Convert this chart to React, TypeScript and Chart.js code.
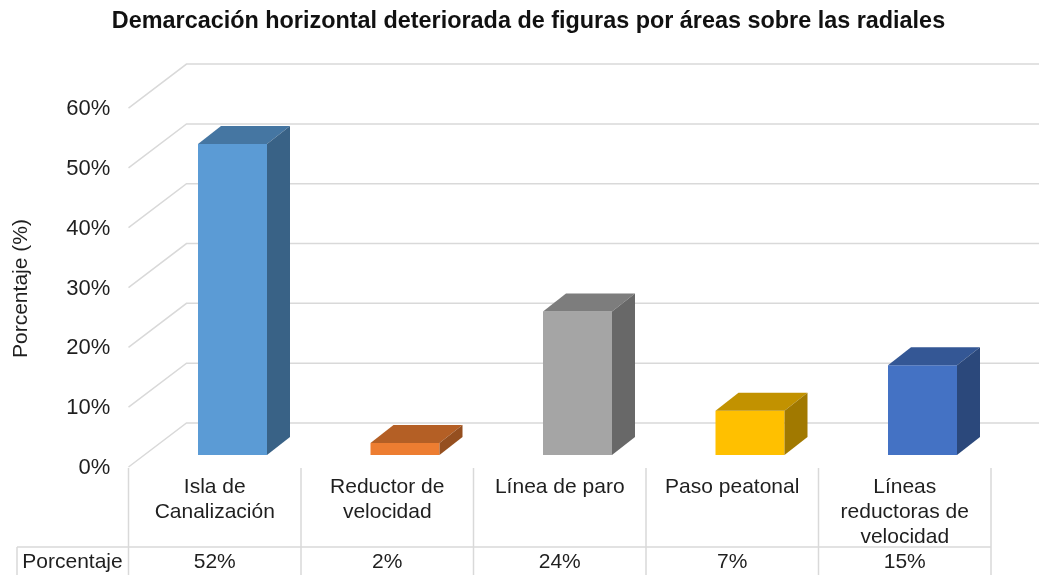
import React, { useEffect, useRef } from "react";
import { Chart, registerables } from "chart.js";

Chart.register(...registerables);

const categories: (string | string[])[] = [
  ["Isla de", "Canalización"],
  ["Reductor de", "velocidad"],
  "Línea de paro",
  "Paso peatonal",
  ["Líneas", "reductoras de", "velocidad"],
];
const seriesName = "Porcentaje";
const values = [52, 2, 24, 7.4, 15];
const tableLabels = ["52%", "2%", "24%", "7%", "15%"];
const barColors = ["#5B9BD5", "#ED7D31", "#A5A5A5", "#FFC000", "#4472C4"];

const FONT = '"Liberation Sans", Arial, sans-serif';
const TEXT = "#1f1f1f";
const GRID = "#D9D9D9";
const FLOOR_DX = 17.75;
const FLOOR_DY = 12;
const WALL_DX = 58;
const WALL_DY = 44;
const BAR_DX = 23;
const BAR_DY = 18;
const AXIS_TITLE_SHIFT = 13;

function shade(hex: string, f: number) {
  const n = parseInt(hex.slice(1), 16);
  const c = [(n >> 16) & 255, (n >> 8) & 255, n & 255].map((v) => Math.round(v * f));
  return `rgb(${c[0]},${c[1]},${c[2]})`;
}

const wallPlugin = {
  id: "wall3d",
  afterLayout(chart: any) {
    chart.titleBlock.left = 18;
    chart.titleBlock.right = 1039;
    const s = chart.scales.y;
    if (!s.__shifted) {
      s.__shifted = true;
      const orig = s.drawTitle;
      s.drawTitle = function () {
        chart.ctx.save();
        chart.ctx.translate(0, AXIS_TITLE_SHIFT);
        orig.call(s);
        chart.ctx.restore();
      };
    }
  },
  beforeDatasetsDraw(chart: any) {
    const { ctx } = chart;
    const y = chart.scales.y;
    const x = chart.scales.x;
    const front = x.left - FLOOR_DX;
    ctx.save();
    ctx.strokeStyle = GRID;
    ctx.lineWidth = 1.5;
    y.ticks.forEach((t: any) => {
      const py = y.getPixelForValue(t.value) + FLOOR_DY;
      ctx.beginPath();
      ctx.moveTo(front, py);
      ctx.lineTo(front + WALL_DX, py - WALL_DY);
      ctx.lineTo(chart.width, py - WALL_DY);
      ctx.stroke();
    });
    ctx.restore();
  },
  afterDatasetsDraw(chart: any) {
    const { ctx } = chart;
    const bars = chart.getDatasetMeta(0).data;
    ctx.save();
    bars.forEach((b: any, i: number) => {
      const { x, y, base, width } = b.getProps(["x", "y", "base", "width"], true);
      const l = x - width / 2;
      const r = x + width / 2;
      ctx.fillStyle = shade(barColors[i], 0.76);
      ctx.beginPath();
      ctx.moveTo(l, y);
      ctx.lineTo(l + BAR_DX, y - BAR_DY);
      ctx.lineTo(r + BAR_DX, y - BAR_DY);
      ctx.lineTo(r, y);
      ctx.closePath();
      ctx.fill();
      ctx.fillStyle = shade(barColors[i], 0.63);
      ctx.beginPath();
      ctx.moveTo(r, y);
      ctx.lineTo(r + BAR_DX, y - BAR_DY);
      ctx.lineTo(r + BAR_DX, base - BAR_DY);
      ctx.lineTo(r, base);
      ctx.closePath();
      ctx.fill();
    });
    ctx.restore();
  },
  afterDraw(chart: any) {
    const { ctx } = chart;
    const x = chart.scales.x;
    const y0 = chart.scales.y.getPixelForValue(0) + FLOOR_DY;
    const step = x.getPixelForValue(1) - x.getPixelForValue(0);
    const left = x.left - FLOOR_DX;
    const rowY = 547;
    ctx.save();
    ctx.strokeStyle = GRID;
    ctx.lineWidth = 1.5;
    for (let i = 0; i <= categories.length; i++) {
      const px = left + i * step;
      ctx.beginPath();
      ctx.moveTo(px, y0 + 1);
      ctx.lineTo(px, chart.height);
      ctx.stroke();
    }
    ctx.beginPath();
    ctx.moveTo(17, rowY);
    ctx.lineTo(left + categories.length * step, rowY);
    ctx.moveTo(17, rowY);
    ctx.lineTo(17, chart.height);
    ctx.stroke();
    ctx.fillStyle = TEXT;
    ctx.font = `21px ${FONT}`;
    ctx.textAlign = "center";
    ctx.textBaseline = "middle";
    ctx.fillText(seriesName, 72.5, 562);
    tableLabels.forEach((t, i) => {
      ctx.fillText(t, x.getPixelForValue(i) - FLOOR_DX, 562);
    });
    ctx.restore();
  },
};

export default function App() {
  const ref = useRef<HTMLCanvasElement>(null);
  useEffect(() => {
    document.body.style.margin = "0";
    document.body.style.background = "#fff";
    const chart = new Chart(ref.current!, {
      type: "bar",
      data: {
        labels: categories as any,
        datasets: [
          {
            label: seriesName,
            data: values,
            backgroundColor: barColors,
            borderWidth: 0,
            barPercentage: 0.4,
            categoryPercentage: 1,
          },
        ],
      },
      options: {
        responsive: false,
        animation: false,
        layout: { padding: { left: 0, right: 30.25, top: 0, bottom: 0 } },
        plugins: {
          legend: { display: false },
          tooltip: { enabled: false },
          title: {
            display: true,
            text: "Demarcación horizontal deteriorada de figuras por áreas sobre las radiales",
            color: "#111111",
            font: { family: FONT, size: 23.4, weight: "bold" },
            padding: { top: 8, bottom: 60 },
          },
        },
        scales: {
          x: {
            grid: { display: false, drawTicks: false },
            border: { display: false },
            afterFit: (s: any) => {
              s.height = 120;
            },
            ticks: {
              autoSkip: false,
              maxRotation: 0,
              minRotation: 0,
              padding: 20,
              labelOffset: -FLOOR_DX,
              color: TEXT,
              font: { family: FONT, size: 21, lineHeight: 1.19 },
            },
          },
          y: {
            min: 0,
            max: 60,
            grid: { display: false, drawTicks: false },
            border: { display: false },
            afterFit: (s: any) => {
              s.width = 146.25;
            },
            title: {
              display: true,
              text: "Porcentaje (%)",
              color: TEXT,
              font: { family: FONT, size: 21 },
              padding: { top: 8.4, bottom: 0 },
            },
            ticks: {
              stepSize: 10,
              padding: 36,
              labelOffset: FLOOR_DY + 1,
              color: TEXT,
              font: { family: FONT, size: 22 },
              callback: (v: any) => `${v}%`,
            },
          },
        },
      },
      plugins: [wallPlugin],
    } as any);
    return () => chart.destroy();
  }, []);
  return <canvas ref={ref} width={1039} height={575} style={{ display: "block" }} />;
}
